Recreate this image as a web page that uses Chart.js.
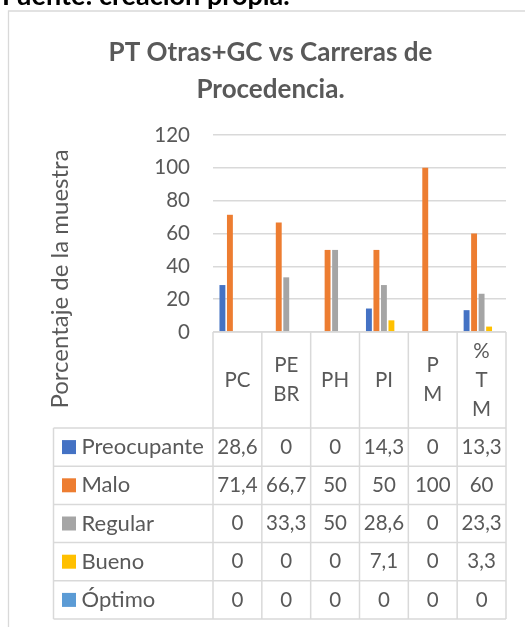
<!DOCTYPE html>
<html><head><meta charset="utf-8">
<script src="https://cdn.jsdelivr.net/npm/chart.js@4.4.0/dist/chart.umd.min.js"></script>
<style>html,body{margin:0;padding:0;background:#fff;overflow:hidden}canvas{display:block}</style>
</head><body>
<canvas id="c" width="525" height="627"></canvas>
<script>
// ---- data ----
const categories = [['PC'], ['PE', 'BR'], ['PH'], ['PI'], ['P', 'M'], ['%', 'T', 'M']];
const seriesNames = ['Preocupante', 'Malo', 'Regular', 'Bueno', 'Óptimo'];
const preocupante = [28.6, 0, 0, 14.3, 0, 13.3];
const malo = [71.4, 66.7, 50, 50, 100, 60];
const regular = [0, 33.3, 50, 28.6, 0, 23.3];
const bueno = [0, 0, 0, 7.1, 0, 3.3];
const optimo = [0, 0, 0, 0, 0, 0];
const yTickValues = [0, 20, 40, 60, 80, 100, 120];
const chartTitle = ['PT Otras+GC vs Carreras de', 'Procedencia.'];
const yAxisTitle = 'Porcentaje de la muestra';
const sourceNote = 'Fuente: creación propia.';

// ---- styles ----
const seriesColors = ['#4472C4', '#ED7D31', '#A5A5A5', '#FFC000', '#5B9BD5'];
const FONT = 'Lato, Carlito, Calibri, sans-serif';
const TXT = '#595959';
const LINE = '#d9d9d9';
const seriesData = [preocupante, malo, regular, bueno, optimo];

const decor = {
  id: 'decor',
  beforeDraw(chart) {
    const ctx = chart.ctx;
    ctx.save();
    ctx.fillStyle = '#fff';
    ctx.fillRect(0, 0, chart.width, chart.height);
    ctx.strokeStyle = LINE; ctx.lineWidth = 1.3;
    ctx.beginPath();
    ctx.moveTo(8.5, chart.height); ctx.lineTo(8.5, 11); ctx.lineTo(chart.width, 11);
    ctx.stroke();
    ctx.fillStyle = '#000'; ctx.font = 'bold 27px ' + FONT;
    ctx.textAlign = 'left'; ctx.textBaseline = 'alphabetic';
    ctx.fillText(sourceNote, 2, 4.5);
    ctx.fillStyle = TXT; ctx.font = 'bold 26px ' + FONT; ctx.textAlign = 'center';
    ctx.fillText(chartTitle[0], 270.5, 60.5);
    ctx.fillText(chartTitle[1], 270.5, 98);
    ctx.translate(68, 279); ctx.rotate(-Math.PI / 2);
    ctx.font = '24px ' + FONT;
    ctx.fillText(yAxisTitle, 0, 0);
    ctx.restore();
  },
  afterDatasetsDraw(chart) {
    const ctx = chart.ctx, ca = chart.chartArea, x = chart.scales.x;
    const n = categories.length;
    const cw = x.getPixelForValue(1) - x.getPixelForValue(0);
    const edges = [];
    for (let i = 0; i <= n; i++) edges.push(x.getPixelForValue(0) - cw / 2 + i * cw);
    const headTop = ca.bottom, headH = 96, rowH = 38.2;
    const rowsTop = headTop + headH;
    const tableBottom = rowsTop + rowH * seriesData.length;
    const legLeft = 53.5;
    ctx.save();
    ctx.strokeStyle = LINE; ctx.lineWidth = 1.5;
    ctx.beginPath();
    ctx.moveTo(edges[0], headTop); ctx.lineTo(edges[n], headTop);
    for (let r = 0; r <= seriesData.length; r++) {
      const y = rowsTop + r * rowH;
      ctx.moveTo(legLeft, y); ctx.lineTo(edges[n], y);
    }
    edges.forEach(e => { ctx.moveTo(e, headTop); ctx.lineTo(e, tableBottom); });
    ctx.moveTo(legLeft, rowsTop); ctx.lineTo(legLeft, tableBottom);
    ctx.stroke();
    ctx.fillStyle = TXT; ctx.font = '20.5px ' + FONT;
    ctx.textAlign = 'center'; ctx.textBaseline = 'middle';
    const lh = 29;
    categories.forEach((lines, i) => {
      const cx = x.getPixelForValue(i), cy = headTop + headH / 2;
      lines.forEach((t, k) => ctx.fillText(t, cx, cy + (k - (lines.length - 1) / 2) * lh));
    });
    seriesData.forEach((vals, r) => {
      const cy = rowsTop + r * rowH + rowH / 2;
      ctx.fillStyle = seriesColors[r];
      ctx.fillRect(62, cy - 7, 14, 14);
      ctx.fillStyle = TXT; ctx.textAlign = 'left';
      ctx.font = '22px ' + FONT;
      ctx.fillText(seriesNames[r], 81.5, cy);
      ctx.font = '20.5px ' + FONT;
      ctx.textAlign = 'center';
      vals.forEach((v, i) => ctx.fillText(String(v).replace('.', ','), x.getPixelForValue(i), cy));
    });
    ctx.restore();
  }
};

new Chart(document.getElementById('c'), {
  type: 'bar',
  data: {
    labels: categories,
    datasets: seriesNames.map((name, i) => ({
      label: name,
      data: seriesData[i],
      backgroundColor: seriesColors[i],
      borderWidth: 0,
      categoryPercentage: 0.768,
      barPercentage: 0.787
    }))
  },
  options: {
    responsive: false,
    animation: false,
    devicePixelRatio: 1,
    layout: { padding: { top: 135, right: 19, bottom: 295, left: 0 } },
    plugins: { legend: { display: false }, tooltip: { enabled: false }, title: { display: false } },
    scales: {
      x: { display: false, offset: true },
      y: {
        min: 0, max: 120,
        afterBuildTicks: s => { s.ticks = yTickValues.map(v => ({ value: v })); },
        afterFit: s => { s.width = 213; },
        grid: { color: LINE, lineWidth: 1.5, drawTicks: false },
        border: { display: false },
        ticks: { color: TXT, font: { family: FONT, size: 20.5 }, padding: 23 }
      }
    }
  },
  plugins: [decor]
});
</script>
</body></html>
